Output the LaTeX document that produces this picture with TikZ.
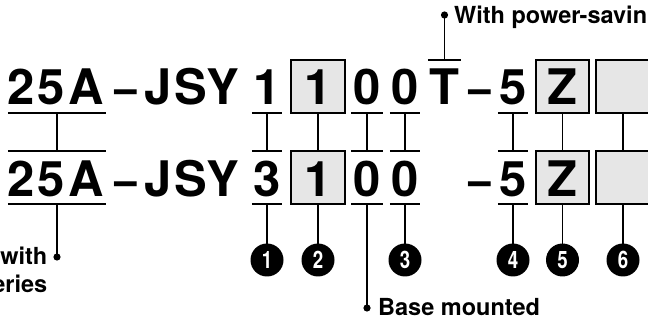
\documentclass[tikz,border=0pt]{standalone}
\usepackage{fontspec}
\setmainfont{TeX Gyre Heros}
\definecolor{boxgray}{HTML}{E6E6E6}
\newcommand{\bigfnt}{\fontsize{49}{49}\selectfont\bfseries}
\newcommand{\lblfnt}{\fontsize{23.5}{28}\selectfont\bfseries}
\newcommand{\numfnt}{\fontsize{24}{24}\selectfont\bfseries}
\tikzset{
  big/.style={font=\bigfnt, inner sep=0pt, anchor=base},
  ln/.style={line width=1.6pt},
  cell/.style={inner sep=0pt, minimum height=53pt},
  boxline/.style={draw=black, line width=1.6pt, fill=boxgray},
  numdisc/.style={fill=black},
  numtext/.style={inner sep=0pt, text=white, font=\numfnt},
  lbl/.style={font=\lblfnt, inner sep=0pt},
}
\newcommand{\cnum}[1]{\scalebox{0.78}[1]{#1}}
\begin{document}
\begin{tikzpicture}[x=1pt,y=-1pt]
\useasboundingbox (0,0) rectangle (648,320);
% ---------- row 1 cells ----------
\node[cell, minimum width=98pt] (A1) at (57,86.5) {};
\node[cell, minimum width=30pt] (B1) at (267,86.5) {};
\node[cell, minimum width=54pt] (C1) at (318,86.5) {};
\node[cell, minimum width=31pt] (D1) at (367,86.5) {};
\node[cell, minimum width=30pt] (E1) at (405,86.5) {};
\node[cell, minimum width=33pt] (T1) at (444.5,86.5) {};
\node[cell, minimum width=30pt] (F1) at (513,86.5) {};
\node[cell, minimum width=53pt] (G1) at (562.5,86.5) {};
\node[cell, minimum width=54pt] (H1) at (623,86.5) {};
% ---------- row 2 cells ----------
\node[cell, minimum width=98pt] (A2) at (57,177.5) {};
\node[cell, minimum width=30pt] (B2) at (267,177.5) {};
\node[cell, minimum width=54pt] (C2) at (318,177.5) {};
\node[cell, minimum width=31pt] (D2) at (367,177.5) {};
\node[cell, minimum width=30pt] (E2) at (405,177.5) {};
\node[cell, minimum width=30pt] (F2) at (513,177.5) {};
\node[cell, minimum width=53pt] (G2) at (562.5,177.5) {};
\node[cell, minimum width=54pt] (H2) at (623,177.5) {};
% ---------- boxes ----------
\foreach \c in {C,G,H}{
  \draw[boxline] (\c1.north west) rectangle (\c1.south east);
  \draw[boxline] (\c2.north west) rectangle (\c2.south east);
}
% ---------- row 1 text ----------
\node[big] (t2a) at (21,105) {2};
\node[big] (t5a) at (51,105) {5};
\node[big] (tAa) at (86.5,105) {A};
\node[big] (tda) at (125.5,105) {−};
\node[big] (tJa) at (158.5,105) {J};
\node[big] (tSa) at (191,105) {S};
\node[big] (tYa) at (223,105) {Y};
\node[big] (t1a) at (267,105) {1};
\node[big] (t1b) at (318,105) {1};
\node[big] (t0a) at (367,105) {0};
\node[big] (t0b) at (405,105) {0};
\node[big] (tTa) at (444.5,105) {T};
\node[big] (tdb) at (479.5,105) {−};
\node[big] (t5b) at (513,105) {5};
\node[big] (tZa) at (562.5,105) {Z};
% ---------- row 2 text ----------
\node[big] (u2a) at (21,196.5) {2};
\node[big] (u5a) at (51,196.5) {5};
\node[big] (uAa) at (86.5,196.5) {A};
\node[big] (uda) at (125.5,196.5) {−};
\node[big] (uJa) at (158.5,196.5) {J};
\node[big] (uSa) at (191,196.5) {S};
\node[big] (uYa) at (223,196.5) {Y};
\node[big] (u3a) at (267,196.5) {3};
\node[big] (u1b) at (318,196.5) {1};
\node[big] (u0a) at (367,196.5) {0};
\node[big] (u0b) at (405,196.5) {0};
\node[big] (udb) at (479.5,196.5) {−};
\node[big] (u5b) at (513,196.5) {5};
\node[big] (uZa) at (562.5,196.5) {Z};
% ---------- under/over lines ----------
\foreach \c in {A,B,D,E,F}{
  \draw[ln] (\c1.south west) -- (\c1.south east);
  \draw[ln] (\c2.north west) -- (\c2.north east);
  \draw[ln] (\c2.south west) -- (\c2.south east);
}
\draw[ln] (T1.north west) -- (T1.north east);
% ---------- connectors between rows ----------
\foreach \c in {A,B,C,D,E,F,G,H}{
  \draw[ln] (\c1.south) -- (\c2.north);
}
% ---------- end points ----------
\coordinate (dT) at (444.5,15);
\coordinate (dA) at (57,257);
\coordinate (dD) at (367,308);
\coordinate (c1) at (267,260);
\coordinate (c2) at (318,260);
\coordinate (c3) at (405,260);
\coordinate (c4) at (513,260);
\coordinate (c5) at (562.5,260);
\coordinate (c6) at (623,260);
\draw[ln] (T1.north) -- (dT);
\draw[ln] (A2.south) -- (dA);
\draw[ln] (D2.south) -- (dD);
\draw[ln] (B2.south) -- (c1);
\draw[ln] (C2.south) -- (c2);
\draw[ln] (E2.south) -- (c3);
\draw[ln] (F2.south) -- (c4);
\draw[ln] (G2.south) -- (c5);
\draw[ln] (H2.south) -- (c6);
\foreach \p in {dT,dA,dD}{
  \fill[numdisc] (\p) circle[radius=3.6pt];
}
\foreach \p in {c1,c2,c3,c4,c5,c6}{
  \fill[numdisc] (\p) circle[radius=16.5pt];
}
\node[numtext] (n1) at (c1) {\cnum{1}};
\node[numtext] (n2) at (c2) {\cnum{2}};
\node[numtext] (n3) at (c3) {\cnum{3}};
\node[numtext] (n4) at (c4) {\cnum{4}};
\node[numtext] (n5) at (c5) {\cnum{5}};
\node[numtext] (n6) at (c6) {\cnum{6}};
\node[lbl, anchor=base west] (lT) at (454,24) {With power-savin};
\node[lbl, anchor=base east] (lA1) at (47.5,265) {with};
\node[lbl, anchor=base east] (lA2) at (47.5,293) {eries};
\node[lbl, anchor=base west] (lD) at (378,316) {Base mounted};
\end{tikzpicture}
\end{document}
